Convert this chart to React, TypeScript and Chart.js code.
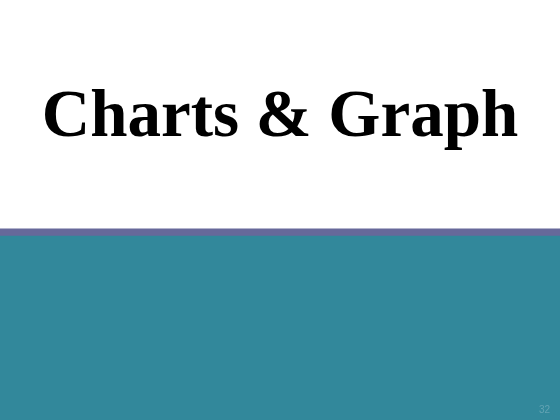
import React, { useEffect, useRef } from 'react'
import { Chart, registerables } from 'chart.js'

Chart.register(...registerables)

const slideTitle = 'Charts & Graph'
const pageNumber = '32'
const categories = ['slide']
const segmentNames = ['divider', 'panel']
const segmentValues = [7, 185]
const segmentColors = ['#67699a', '#32889b']

const pageNumberPlugin = {
  id: 'pageNumber',
  afterDraw(chart: Chart) {
    const { ctx, chartArea } = chart
    ctx.save()
    ctx.font = '10px "Liberation Sans", Arial, sans-serif'
    ctx.fillStyle = '#63a3b3'
    ctx.textAlign = 'right'
    ctx.textBaseline = 'alphabetic'
    ctx.fillText(pageNumber, chartArea.right - 10, chartArea.bottom - 7)
    ctx.restore()
  },
}

const App: React.FC = () => {
  const chartRef = useRef<HTMLCanvasElement | null>(null)

  useEffect(() => {
    if (!chartRef.current) return
    const ctx = chartRef.current.getContext('2d')
    if (!ctx) return

    const total = segmentValues.reduce((a, b) => a + b, 0)

    const myChart = new Chart(ctx, {
      type: 'bar',
      data: {
        labels: categories,
        datasets: segmentNames.map((name, i) => ({
          label: name,
          data: [segmentValues[i]],
          backgroundColor: segmentColors[i],
          borderWidth: 0,
          barPercentage: 1,
          categoryPercentage: 1,
        })),
      },
      options: {
        animation: false,
        responsive: true,
        maintainAspectRatio: false,
        layout: { padding: 0 },
        scales: {
          x: { display: false, stacked: true },
          y: { display: false, stacked: true, min: 0, max: total, reverse: true },
        },
        plugins: {
          legend: { display: false },
          tooltip: { enabled: false },
          title: {
            display: true,
            text: slideTitle,
            color: '#000000',
            font: { family: '"Liberation Serif", "Times New Roman", serif', size: 67, weight: 'bold', lineHeight: 1.2 },
            padding: { top: 78, bottom: 70 },
          },
        },
      },
      plugins: [pageNumberPlugin],
    })

    return () => {
      myChart.destroy()
    }
  }, [])

  return (
    <div style={{ position: 'fixed', top: 0, left: 0, width: '560px', height: '420px', background: '#ffffff' }}>
      <canvas ref={chartRef} />
    </div>
  )
}

export default App
